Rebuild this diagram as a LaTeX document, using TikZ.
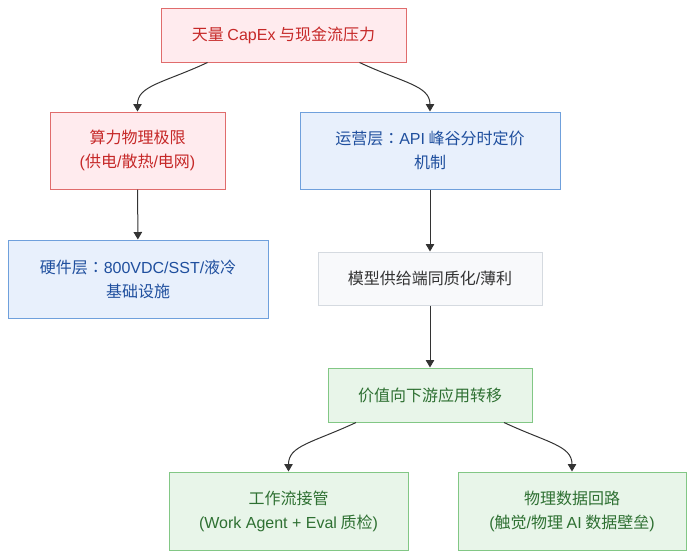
\documentclass[tikz,border=0pt]{standalone}
\usepackage{fontspec}
\setmainfont{Noto Sans CJK SC}
\newfontfamily\en{Liberation Sans}
\newfontfamily\tc{Noto Sans CJK TC}
\usepackage{tikz}
\usetikzlibrary{arrows.meta}
\usetikzlibrary{calc}

\definecolor{redfill}{HTML}{FFEBEE}
\definecolor{redline}{HTML}{E06C6C}
\definecolor{redtext}{HTML}{C62828}
\definecolor{bluefill}{HTML}{E8F0FC}
\definecolor{blueline}{HTML}{6FA0DC}
\definecolor{bluetext}{HTML}{1F4F9E}
\definecolor{grayfill}{HTML}{F8F9FB}
\definecolor{grayline}{HTML}{D5DAE0}
\definecolor{graytext}{HTML}{333333}
\definecolor{greenfill}{HTML}{E8F5E9}
\definecolor{greenline}{HTML}{82C785}
\definecolor{greentext}{HTML}{2E7032}
\definecolor{arrowgray}{HTML}{333333}

\begin{document}
\begin{tikzpicture}[x=1pt,y=-1pt,
	box/.style={draw, line width=1pt, align=center, inner sep=0pt,
		font=\fontsize{16}{24}\selectfont},
	redbox/.style={box, fill=redfill, draw=redline, text=redtext},
	bluebox/.style={box, fill=bluefill, draw=blueline, text=bluetext},
	graybox/.style={box, fill=grayfill, draw=grayline, text=graytext},
	greenbox/.style={box, fill=greenfill, draw=greenline, text=greentext},
	flow/.style={draw=arrowgray, line width=1pt, -{Triangle[length=7.5pt,width=8.5pt]}}
	]

\useasboundingbox (0,0) rectangle (693,558);

% top
\node[redbox, minimum width=245pt, minimum height=54pt] (capex) at (283.5,35) {天量 {\en CapEx} 与现金流压力};

% left branch
\node[redbox, minimum width=175pt, minimum height=77pt] (limit) at (137.5,150.5) {算力物理极限\\{\en(}供电{\en/}散热{\en/}电网{\en)}};
\node[bluebox, minimum width=260pt, minimum height=78pt] (hw) at (138,279) {硬件层{\tc ：}{\en 800VDC/SST/}液冷\\基础设施};

% right branch
\node[bluebox, minimum width=260pt, minimum height=77pt] (ops) at (430,150.5) {运营层{\tc ：}{\en API} 峰谷分时定价\\机制};
\node[graybox, minimum width=224pt, minimum height=53pt] (model) at (430,278.5) {模型供给端同质化{\en/}薄利};
\node[greenbox, minimum width=204pt, minimum height=54pt] (value) at (430,395) {价值向下游应用转移};

% bottom
\node[greenbox, minimum width=239pt, minimum height=78pt] (work) at (288.5,511) {工作流接管\\{\en(Work Agent + Eval} 质检{\en)}};
\node[greenbox, minimum width=228pt, minimum height=78pt] (phys) at (572,511) {物理数据回路\\{\en(}触觉{\en/}物理 {\en AI} 数据壁垒{\en)}};

\draw[flow] ($(capex.south)+(-76,0)$) to [controls=+(205:48pt) and +(90:26pt)] (limit.north);
\draw[flow] ($(capex.south)+(76,0)$) to [controls=+(-25:48pt) and +(90:26pt)] (ops.north);

\draw[flow] (limit) -- (hw);
\draw[flow] (ops) -- (model);
\draw[flow] (model) -- (value);

\draw[flow] ($(value.south)+(-74,0)$) to [controls=+(205:48pt) and +(90:26pt)] (work.north);
\draw[flow] ($(value.south)+(74,0)$) to [controls=+(-25:48pt) and +(90:26pt)] (phys.north);

\end{tikzpicture}
\end{document}
